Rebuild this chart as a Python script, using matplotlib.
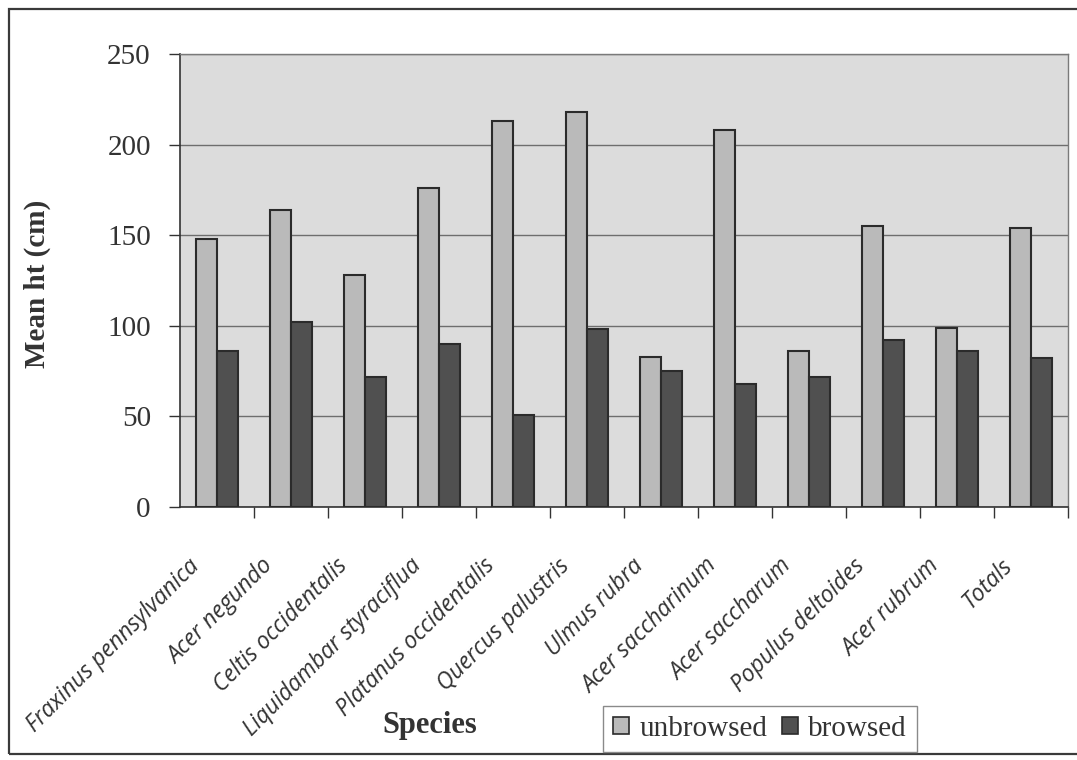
import matplotlib
matplotlib.use("Agg")
import matplotlib.pyplot as plt
import numpy as np
from matplotlib.transforms import ScaledTranslation
from matplotlib.patches import Rectangle, Patch

# Mean seedling height by species, unbrowsed vs browsed
species = [
    "Fraxinus pennsylvanica", "Acer negundo", "Celtis occidentalis",
    "Liquidambar styraciflua", "Platanus occidentalis", "Quercus palustris",
    "Ulmus rubra", "Acer saccharinum", "Acer saccharum",
    "Populus deltoides", "Acer rubrum", "Totals",
]
unbrowsed = [148, 164, 128, 176, 213, 218, 83, 208, 86, 155, 99, 154]
browsed = [86, 102, 72, 90, 51, 98, 75, 68, 72, 92, 86, 82]
yticks = [0, 50, 100, 150, 200, 250]

SERIF = ["Liberation Serif", "DejaVu Serif"]
C_UNB = "#bababa"
C_BRO = "#505050"
C_EDGE = "#2b2b2b"

fig = plt.figure(figsize=(10.77, 7.6), dpi=100)
W, H = 1077, 760

def fx(px):
    return px / W

def fy(py):
    return 1 - py / H

ax = fig.add_axes([fx(180), fy(507), fx(1068) - fx(180), fy(54) - fy(507)])
ax.set_facecolor("#dcdcdc")

x = np.arange(len(species))
w = 1 / 3.5
ax.bar(x - w / 2, unbrowsed, width=w, color=C_UNB, edgecolor=C_EDGE,
       linewidth=1.5, zorder=3, label="unbrowsed")
ax.bar(x + w / 2, browsed, width=w, color=C_BRO, edgecolor=C_EDGE,
       linewidth=1.5, zorder=3, label="browsed")

ax.set_xlim(-0.5, len(species) - 0.5)
ax.set_ylim(0, 250)
ax.set_yticks(yticks)
ax.set_yticklabels([str(v) for v in yticks], family=SERIF, fontsize=21,
                   color="#333333")
ax.yaxis.grid(True, color="#6e6e6e", linewidth=1.0, zorder=1)
ax.set_axisbelow(True)

# category boundary ticks on the x axis, labels at category centres
ax.set_xticks(x + 0.5, minor=False)
ax.set_xticklabels([])
ax.set_xticks(x, minor=True)
ax.set_xticklabels(species, minor=True, rotation=45, rotation_mode="anchor",
                   ha="right", va="baseline", fontsize=16.5, fontstyle="italic",
                   family=["Open Sans", "DejaVu Sans"], color="#333333")
ax.tick_params(axis="x", which="major", length=8, width=1, color="#333333",
               direction="out")
ax.tick_params(axis="x", which="minor", length=0, pad=43)
ax.tick_params(axis="y", length=8, width=1, color="#333333", pad=13)
shift = ScaledTranslation(-0.17, 0, fig.dpi_scale_trans)
for lab in ax.get_xticklabels(minor=True):
    lab.set_transform(lab.get_transform() + shift)

for side in ("top", "right"):
    ax.spines[side].set_color("#7a7a7a")
    ax.spines[side].set_linewidth(1.0)
for side in ("left", "bottom"):
    ax.spines[side].set_color("#333333")
    ax.spines[side].set_linewidth(1.2)

fig.text(fx(37), fy(284), "Mean ht (cm)", rotation=90, ha="center",
         va="center", family=SERIF, fontsize=21, fontweight="bold",
         color="#333333")
fig.text(fx(430), fy(726), "Species", ha="center", va="center",
         family=SERIF, fontsize=22, fontweight="bold", color="#333333")

handles = [Patch(facecolor=C_UNB, edgecolor=C_EDGE, linewidth=1.2),
           Patch(facecolor=C_BRO, edgecolor=C_EDGE, linewidth=1.2)]
leg = fig.legend(handles, ["unbrowsed", "browsed"], loc="center",
                 bbox_to_anchor=(fx(760), fy(729)), ncol=2, frameon=True,
                 fancybox=False, edgecolor="#8a8a8a", framealpha=1,
                 prop={"family": SERIF, "size": 21},
                 handlelength=0.55, handleheight=0.55, handletextpad=0.35,
                 columnspacing=0.5, borderpad=0.35, borderaxespad=0)
for t in leg.get_texts():
    t.set_color("#333333")
leg.get_frame().set_linewidth(1.0)

# chart border
fig.patches.append(Rectangle((fx(9), fy(754)), 1.2, fy(9) - fy(754),
                             transform=fig.transFigure, fill=False,
                             edgecolor="#3a3a3a", linewidth=1.6))

fig.savefig("out.png", dpi=100, facecolor="white")
